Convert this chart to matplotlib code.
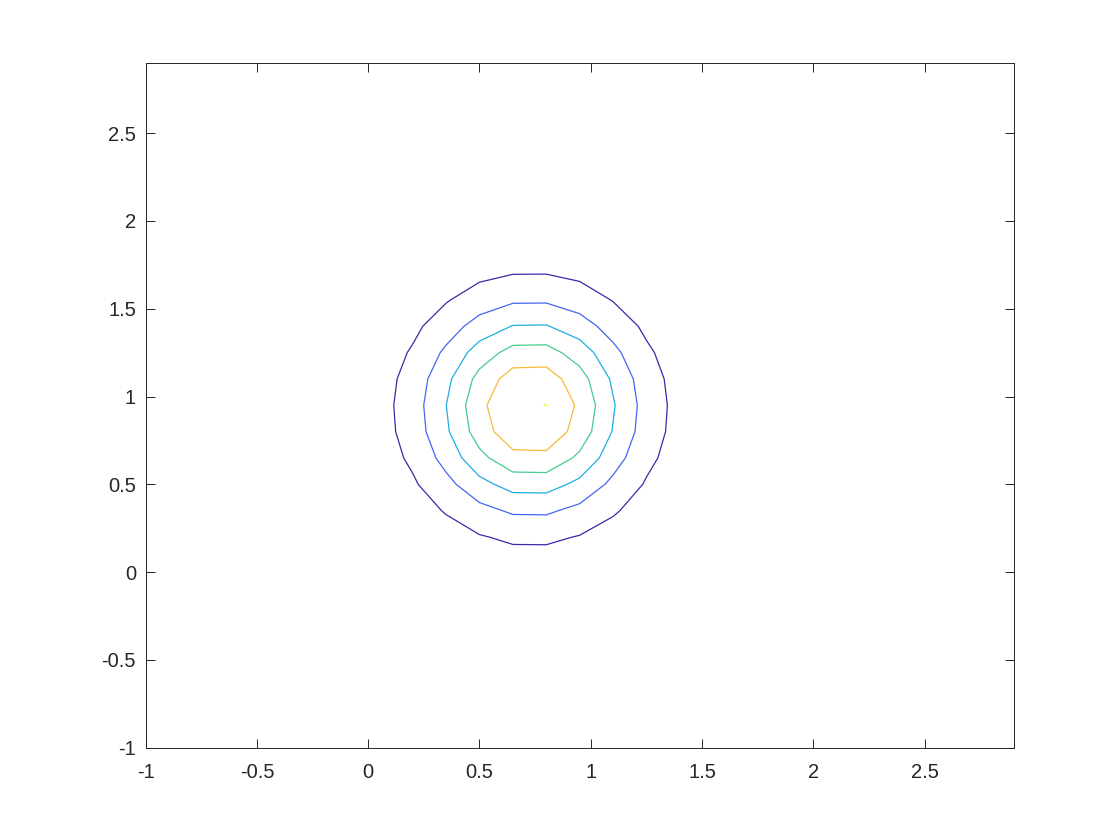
import numpy as np
import matplotlib
matplotlib.use('Agg')
import matplotlib.pyplot as plt

# sample grid, -1:0.15:2.9 on both axes
grid_x = np.arange(27) * 0.15 - 1.0
grid_y = np.arange(27) * 0.15 - 1.0

zx = [0, 0, 0, 0, 0.002, 0.008, 0.032, 0.099, 0.246, 0.486, 0.768, 0.969, 0.976,
      0.785, 0.504, 0.259, 0.106, 0.035, 0.009, 0.002, 0, 0, 0, 0, 0, 0, 0]
zy = [0, 0, 0, 0.001, 0.005, 0.014, 0.039, 0.094, 0.197, 0.359, 0.569, 0.787, 0.950,
      0.999, 0.916, 0.732, 0.510, 0.310, 0.164, 0.076, 0.030, 0.011, 0.003, 0, 0, 0, 0]

Z = np.outer(zy, zx)

# six evenly spaced levels up to the peak (top one is the dot at the max)
zmax = Z.max()
levels = [zmax * k / 6 for k in range(1, 6)] + [zmax * 0.9995]
line_colors = ['#3E26A8', '#4167F0', '#1DAEE2', '#45CB8C', '#F8B93B', '#F5F318']

ticks = [-1, -0.5, 0, 0.5, 1, 1.5, 2, 2.5]
tick_labels = ['-1', '-0.5', '0', '0.5', '1', '1.5', '2', '2.5']

plt.rcParams['font.family'] = ['Liberation Sans', 'DejaVu Sans']
fig = plt.figure(figsize=(11.2, 8.4), dpi=100)
ax = fig.add_axes([0.13, 0.11, 0.775, 0.815])
ax.contour(grid_x, grid_y, Z, levels=levels, colors=line_colors, linewidths=0.9)

ax.set_xlim(-1, 2.9)
ax.set_ylim(-1, 2.9)
ax.set_xticks(ticks)
ax.set_xticklabels(tick_labels)
ax.set_yticks(ticks)
ax.set_yticklabels(tick_labels)
ax.tick_params(direction='in', length=6.5, width=0.7, colors='#262626',
               labelsize=14.5, top=True, right=True)
ax.tick_params(axis='x', pad=11)
ax.tick_params(axis='y', pad=7)
for s in ax.spines.values():
    s.set_color('#262626')
    s.set_linewidth(0.7)

fig.savefig('out.png', dpi=100)
